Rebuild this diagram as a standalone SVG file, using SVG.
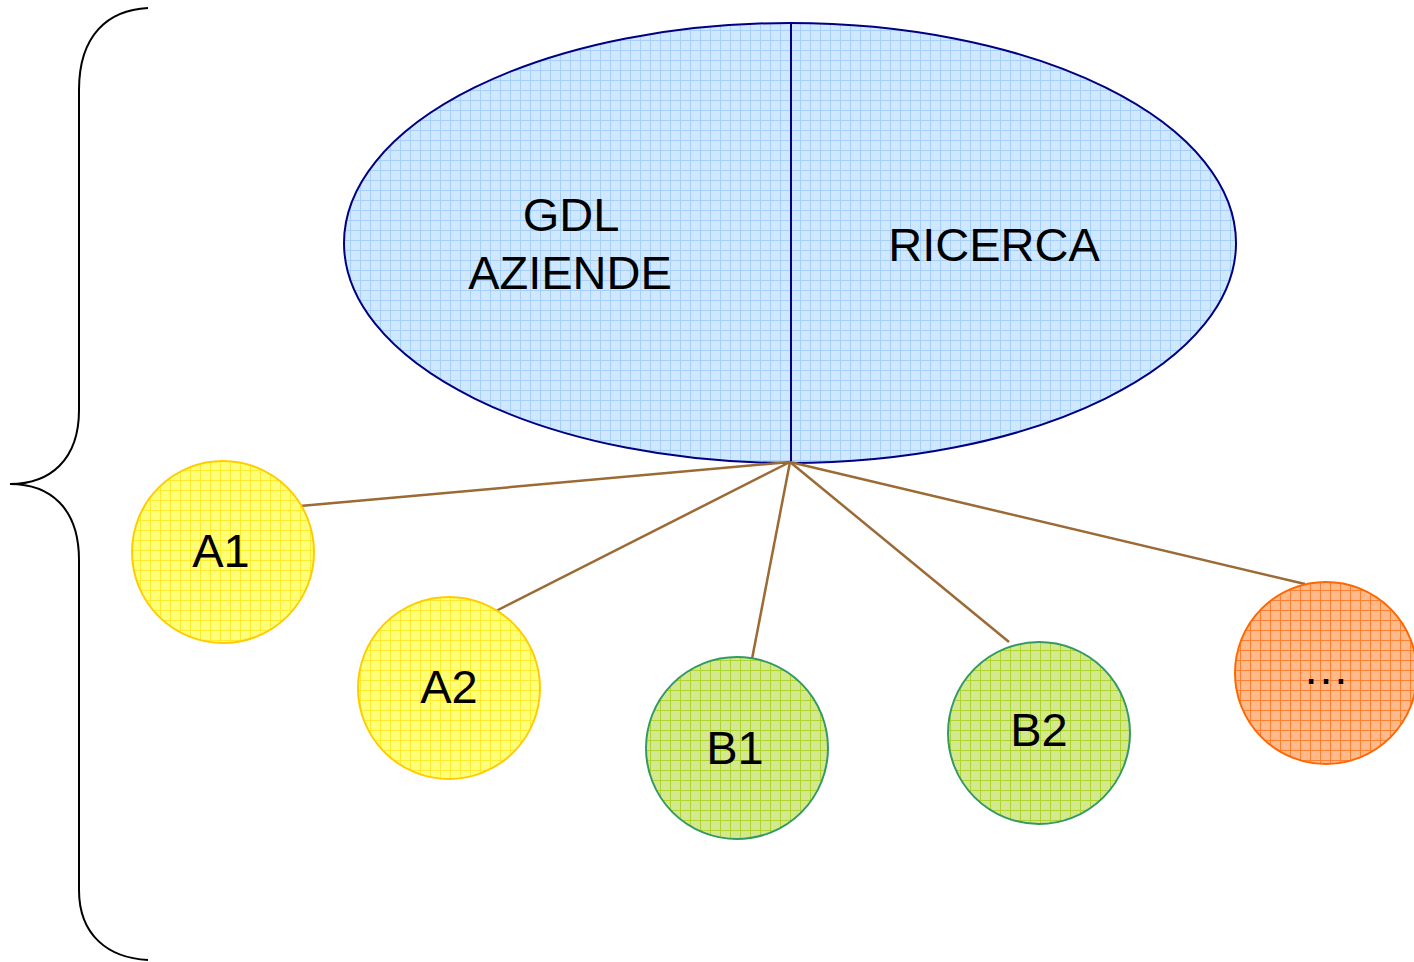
<svg xmlns="http://www.w3.org/2000/svg" width="1414" height="962" viewBox="0 0 1414 962">
<defs>
<pattern id="pBlue" width="10" height="10" patternUnits="userSpaceOnUse"><rect width="10" height="10" fill="#CFE7FF"/><path d="M0 0.5H10M0.5 0V10" stroke="#A6D0FA" stroke-width="1"/></pattern>
<pattern id="pYellow" width="10" height="10" patternUnits="userSpaceOnUse"><rect width="10" height="10" fill="#FFFF78"/><path d="M0 0.5H10M0.5 0V10" stroke="#FFEA30" stroke-width="1"/></pattern>
<pattern id="pGreen" width="10" height="10" patternUnits="userSpaceOnUse"><rect width="10" height="10" fill="#D4E890"/><path d="M0 0.5H10M0.5 0V10" stroke="#AED430" stroke-width="1"/></pattern>
<pattern id="pOrange" width="10" height="10" patternUnits="userSpaceOnUse"><rect width="10" height="10" fill="#FFBA8C"/><path d="M0 0.5H10M0.5 0V10" stroke="#FF8030" stroke-width="1"/></pattern>
</defs>
<style>
text{font-family:"Liberation Sans",Arial,sans-serif;font-size:47px;fill:#000;text-anchor:middle}
.conn line{stroke:#9B6A35;stroke-width:2.5}
.yel{fill:url(#pYellow);stroke:#FFCC00;stroke-width:2}
.grn{fill:url(#pGreen);stroke:#339966;stroke-width:2}
.org{fill:url(#pOrange);stroke:#FF6600;stroke-width:2}
</style>
<g id="brace"><path d="M148 8 C108 10 79 35 79 90 V410 C79 460 50 484 10 484 C50 484 79 508 79 560 V890 C79 935 108 958 148 960" fill="none" stroke="#000" stroke-width="2"/></g>
<g id="main">
<ellipse cx="790" cy="243" rx="446" ry="220" fill="url(#pBlue)" stroke="#000080" stroke-width="2"/>
<line x1="791" y1="22" x2="791" y2="463" stroke="#000080" stroke-width="2"/>
<text x="571" y="231">GDL</text>
<text x="570" y="289">AZIENDE</text>
<text x="994" y="261">RICERCA</text>
</g>
<g class="conn" id="connectors">
<line x1="790" y1="462" x2="300" y2="506"/>
<line x1="790" y1="462" x2="496" y2="611"/>
<line x1="790" y1="462" x2="752" y2="659"/>
<line x1="790" y1="462" x2="1009" y2="642"/>
<line x1="790" y1="462" x2="1305" y2="584"/>
</g>
<g id="A1"><circle class="yel" cx="223" cy="552" r="91"/><text x="221" y="567">A1</text></g>
<g id="A2"><circle class="yel" cx="449" cy="688" r="91"/><text x="449" y="703">A2</text></g>
<g id="B1"><circle class="grn" cx="737" cy="748" r="91"/><text x="735" y="764">B1</text></g>
<g id="B2"><circle class="grn" cx="1039" cy="733" r="91"/><text x="1039" y="746">B2</text></g>
<g id="more"><circle class="org" cx="1326" cy="673" r="91"/><text x="1326" y="684">…</text></g>
</svg>
